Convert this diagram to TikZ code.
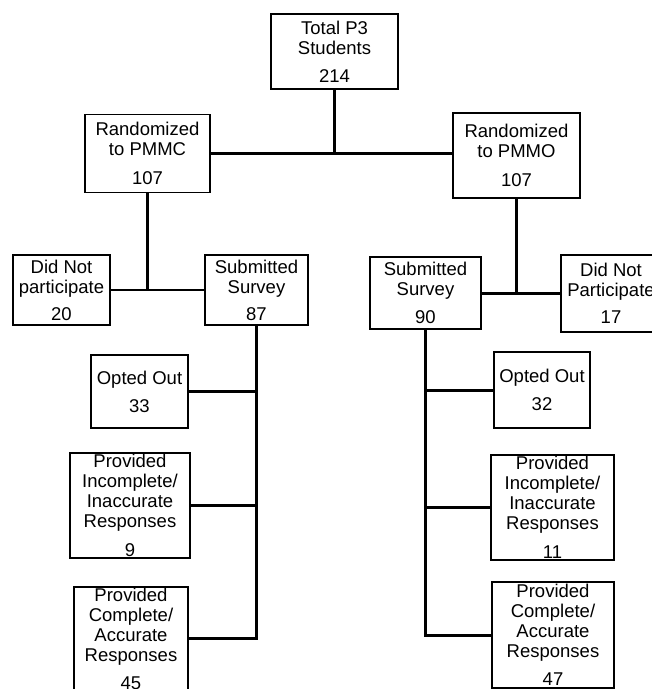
\documentclass[tikz,border=0pt]{standalone}
\usepackage{fontspec}
\setmainfont{Liberation Sans}
\begin{document}
\begin{tikzpicture}[x=1pt,y=-1pt,
  box/.style={draw,line width=1.8pt,inner sep=0pt,align=center,font=\fontsize{18.5}{20}\selectfont},
  thk/.style={line width=3pt},
  thn/.style={line width=2.2pt}]
\useasboundingbox (0,0) rectangle (652,689);
\clip (0,0) rectangle (652,689);
\fill[white] (0,0) rectangle (652,689);
% boxes
\node[box,minimum width=127pt,minimum height=75pt] (top) at (334.5,51.5) {Total P3\\Students\\[8pt]214};
\node[box,minimum width=125pt,minimum height=78pt] (pmmc) at (147.5,153.5) {Randomized\\to PMMC\\[9pt]107};
\node[box,minimum width=127pt,minimum height=85pt] (pmmo) at (516.5,155.5) {Randomized\\to PMMO\\[9pt]107};
\node[box,minimum width=97pt,minimum height=70pt] (dnp20) at (61.5,290) {Did Not\\participate\\[7pt]20};
\node[box,minimum width=103pt,minimum height=70pt] (ss87) at (256.5,290) {Submitted\\Survey\\[7pt]87};
\node[box,minimum width=111pt,minimum height=72pt] (ss90) at (425.5,293) {Submitted\\Survey\\[8pt]90};
\node[box,minimum width=100pt,minimum height=77pt] (dnp17) at (611,293.5) {Did Not\\Participate\\[7pt]17};
\node[box,minimum width=97pt,minimum height=73pt] (oo33) at (139.5,391.5) {Opted Out\\[8pt]33};
\node[box,minimum width=120pt,minimum height=105pt] (inc9) at (130,505.5) {Provided\\Incomplete/\\Inaccurate\\Responses\\[9pt]9};
\node[box,minimum width=114pt,minimum height=103pt] (com45) at (131,638.5) {Provided\\Complete/\\Accurate\\Responses\\[8pt]45};
\node[box,minimum width=96pt,minimum height=76pt] (oo32) at (542,390) {Opted Out\\[8pt]32};
\node[box,minimum width=123pt,minimum height=105pt] (inc11) at (552.5,507.5) {Provided\\Incomplete/\\Inaccurate\\Responses\\[9pt]11};
\node[box,minimum width=122pt,minimum height=106pt] (com47) at (553,635) {Provided\\Complete/\\Accurate\\Responses\\[8pt]47};
% junctions
\coordinate (j1) at (top.south |- pmmc.east);
\coordinate (j2) at (pmmc.south |- ss87.west);
\coordinate (j3) at (pmmo.south |- dnp17.west);
% connectors top
\draw[thk] (top.south) -- (j1);
\draw[thk] (pmmc.east) -- (pmmc.east -| pmmo.west);
\draw[thn] (pmmc.south) -- (j2);
\draw[thn] (dnp20.east) -- (ss87.west);
\draw[thk] (pmmo.south) -- (j3);
\draw[thk] (ss90.east |- dnp17.west) -- (dnp17.west);
% left branch
\draw[thn] (ss87.south) -- (ss87.south |- com45.east) -- (com45.east);
\draw[thn] (oo33.east) -- (oo33.east -| ss87.south);
\draw[thn] (inc9.east) -- (inc9.east -| ss87.south);
% right branch
\draw[thk] (ss90.south) -- (ss90.south |- com47.west) -- (com47.west);
\draw[thk] (oo32.west) -- (oo32.west -| ss90.south);
\draw[thk] (inc11.west) -- (inc11.west -| ss90.south);
\end{tikzpicture}
\end{document}
